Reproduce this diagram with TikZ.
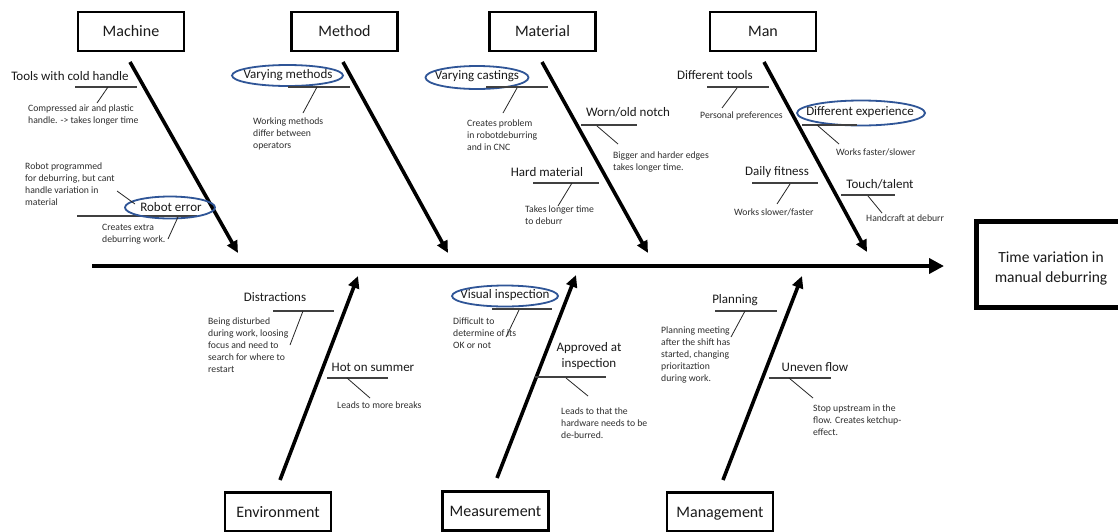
\documentclass[tikz,border=0pt]{standalone}
\usepackage{fontspec}
\setmainfont{Carlito}
\usetikzlibrary{arrows.meta,shapes.geometric}
\definecolor{ovalblue}{HTML}{2F5597}
\definecolor{labelgray}{HTML}{1A1A1A}
\definecolor{notegray}{HTML}{2E2E2E}
\definecolor{linegray}{HTML}{404040}
\begin{document}
\begin{tikzpicture}[x=1pt,y=-1pt,
  catbox/.style={draw=black, line width=2.4pt, minimum width=106pt, minimum height=39pt,
    inner sep=0pt, text height=11pt, text depth=0.5pt, text=labelgray,
    font=\fontsize{16}{19}\selectfont},
  effecttext/.style={inner sep=0pt, align=center, text=labelgray,
    font=\fontsize{15.5}{20}\selectfont},
  cause/.style={inner sep=0pt, text=labelgray, font=\fontsize{13}{16}\selectfont},
  oval/.style={draw=ovalblue, line width=1.8pt},
  note/.style={inner sep=0pt, anchor=north west, align=left, text=notegray,
    font=\fontsize{9.7}{11.8}\selectfont},
  uline/.style={draw=linegray, line width=1.3pt},
  lead/.style={draw=black!85, line width=0.8pt},
  bone/.style={draw=black, line width=3.6pt, -{Triangle[length=12pt,width=11pt]}},
  spine/.style={draw=black, line width=4pt, -{Triangle[length=15pt,width=15pt]}}]
\useasboundingbox (0,0) rectangle (1118,531);
\fill[white] (0,0) rectangle (1118,531);
\clip (0,0) rectangle (1118,531);

% ---------- effect and spine ----------
\node[effecttext] (effect) at (1051,268) {Time variation in\\manual deburring};
\draw[line width=5pt] (976,221.5) rectangle (1130,307);
\coordinate (tail) at (92,266);
\coordinate (head) at (944,266);
\draw[spine] (tail) -- (head);

% ---------- category boxes ----------
\node[catbox] (machine)  at (131,31.5)  {Machine};
\node[catbox] (method)   at (344.5,31.5) {Method};
\node[catbox] (material) at (542.5,31.5) {Material};
\node[catbox] (man)      at (763,31.5)  {Man};
\node[catbox] (environment) at (278,512) {Environment};
\node[catbox] (measurement) at (495.5,511) {Measurement};
\node[catbox] (management)  at (720,512) {Management};

% ---------- bones ----------
\coordinate (machineS) at (130,62);   \coordinate (machineT) at (238,253);
\coordinate (methodS) at (343,62);    \coordinate (methodT) at (448,253);
\coordinate (materialS) at (542,62);  \coordinate (materialT) at (648,253);
\coordinate (manS) at (764,62);       \coordinate (manT) at (867,252);
\coordinate (environmentS) at (280,480); \coordinate (environmentT) at (358,276);
\coordinate (measurementS) at (497,478); \coordinate (measurementT) at (576,275);
\coordinate (managementS) at (723,480);  \coordinate (managementT) at (802,276);
\foreach \b in {machine,method,material,man,environment,measurement,management}
  \draw[bone] (\b S) -- (\b T);

% ---------- Machine ----------
\node[cause] (tools) at (70,76) {Tools with cold handle};
\coordinate (toolsA) at (75,87); \coordinate (toolsB) at (137,87);
\coordinate (toolsK) at (108,87); \coordinate (toolsE) at (97,103);
\draw[uline] (toolsA) -- (toolsB);
\draw[lead] (toolsK) -- (toolsE);
\node[note] (toolsN) at (28,105) {Compressed air and plastic\\handle. -> takes longer time};

\node[note] (robotN) at (25,163) {Robot programmed\\for deburring, but cant\\handle variation in\\material};
\coordinate (robotA) at (77,216); \coordinate (robotB) at (197,216);
\draw[uline] (robotA) -- (robotB);
\node[cause] (robot) at (171,207) {Robot error};
\draw[oval] (170,207.5) ellipse [x radius=45, y radius=11];
\coordinate (robotP) at (117,191); \coordinate (robotQ) at (135,204);
\draw[lead] (robotP) -- (robotQ);
\coordinate (robotK) at (178,217); \coordinate (robotE) at (168,239);
\draw[lead] (robotK) -- (robotE);
\node[note] (robotC) at (102,224) {Creates extra\\deburring work.};

% ---------- Method ----------
\node[cause] (varmeth) at (288,75) {Varying methods};
\draw[oval] (287.5,75.5) ellipse [x radius=55.5, y radius=10.5];
\coordinate (varmethA) at (288,87); \coordinate (varmethB) at (350,87);
\coordinate (varmethK) at (317,87); \coordinate (varmethE) at (303,113);
\draw[uline] (varmethA) -- (varmethB);
\draw[lead] (varmethK) -- (varmethE);
\node[note] (varmethN) at (253,118) {Working methods\\differ between\\operators};

% ---------- Material ----------
\node[cause] (varcast) at (477,76) {Varying castings};
\draw[oval] (477,77.5) ellipse [x radius=51.5, y radius=11.5];
\coordinate (varcastA) at (486,87); \coordinate (varcastB) at (548,87);
\coordinate (varcastK) at (517,88); \coordinate (varcastE) at (503,113);
\draw[uline] (varcastA) -- (varcastB);
\draw[lead] (varcastK) -- (varcastE);
\node[note] (varcastN) at (467,120) {Creates problem\\in robotdeburring\\and in CNC};

\node[cause] (worn) at (628,112) {Worn/old notch};
\coordinate (wornA) at (581,125); \coordinate (wornB) at (637,125);
\coordinate (wornK) at (597,126); \coordinate (wornE) at (618,144);
\draw[uline] (wornA) -- (wornB);
\draw[lead] (wornK) -- (wornE);
\node[note] (wornN) at (613,152) {Bigger and harder edges\\takes longer time.};

\node[cause] (hard) at (547,172) {Hard material};
\coordinate (hardA) at (533,183); \coordinate (hardB) at (599,183);
\coordinate (hardK) at (572,183); \coordinate (hardE) at (558,206);
\draw[uline] (hardA) -- (hardB);
\draw[lead] (hardK) -- (hardE);
\node[note] (hardN) at (525,206) {Takes longer time\\to deburr};

% ---------- Man ----------
\node[cause] (dtools) at (715,75) {Different tools};
\coordinate (dtoolsA) at (707,87); \coordinate (dtoolsB) at (769,87);
\coordinate (dtoolsK) at (737,88); \coordinate (dtoolsE) at (722,108);
\draw[uline] (dtoolsA) -- (dtoolsB);
\draw[lead] (dtoolsK) -- (dtoolsE);
\node[note] (dtoolsN) at (700,112) {Personal preferences};

\node[cause] (exper) at (860,112) {Different experience};
\draw[oval] (861,113) ellipse [x radius=64, y radius=12.5];
\coordinate (experA) at (802,125); \coordinate (experB) at (857,125);
\coordinate (experK) at (817,125); \coordinate (experE) at (839,144);
\draw[uline] (experA) -- (experB);
\draw[lead] (experK) -- (experE);
\node[note] (experN) at (836,149) {Works faster/slower};

\node[cause] (fitness) at (777,172) {Daily fitness};
\coordinate (fitnessA) at (752,183); \coordinate (fitnessB) at (818,183);
\coordinate (fitnessK) at (790,184); \coordinate (fitnessE) at (777,204);
\draw[uline] (fitnessA) -- (fitnessB);
\draw[lead] (fitnessK) -- (fitnessE);
\node[note] (fitnessN) at (734,209) {Works slower/faster};

\node[cause] (touch) at (880,184) {Touch/talent};
\coordinate (touchA) at (841,195); \coordinate (touchB) at (895,195);
\coordinate (touchK) at (868,196); \coordinate (touchE) at (882,213);
\draw[uline] (touchA) -- (touchB);
\draw[lead] (touchK) -- (touchE);
\node[note] (touchN) at (866,215) {Handcraft at deburr};

% ---------- Environment ----------
\node[cause] (distr) at (275,297) {Distractions};
\coordinate (distrA) at (273,311); \coordinate (distrB) at (334,311);
\coordinate (distrK) at (303,311); \coordinate (distrE) at (290,345);
\draw[uline] (distrA) -- (distrB);
\draw[lead] (distrK) -- (distrE);
\node[note] (distrN) at (208,318) {Being disturbed\\during work, loosing\\focus and need to\\search for where to\\restart};

\node[cause] (hot) at (373,367) {Hot on summer};
\coordinate (hotA) at (327,378); \coordinate (hotB) at (388,378);
\coordinate (hotK) at (347,378); \coordinate (hotE) at (370,398);
\draw[uline] (hotA) -- (hotB);
\draw[lead] (hotK) -- (hotE);
\node[note] (hotN) at (337,402) {Leads to more breaks};

% ---------- Measurement ----------
\node[cause] (visual) at (505,295) {Visual inspection};
\draw[oval] (505,296) ellipse [x radius=53, y radius=10.5];
\coordinate (visualA) at (492,309); \coordinate (visualB) at (552,309);
\coordinate (visualK) at (519,310); \coordinate (visualE) at (506,337);
\draw[uline] (visualA) -- (visualB);
\draw[lead] (visualK) -- (visualE);
\node[note] (visualN) at (453,318) {Difficult to\\determine of its\\OK or not};

\node[cause, align=center] (approved) at (589,356) {Approved at\\inspection};
\coordinate (approvedA) at (535,377); \coordinate (approvedB) at (606,377);
\coordinate (approvedK) at (566,378); \coordinate (approvedE) at (588,396);
\draw[uline] (approvedA) -- (approvedB);
\draw[lead] (approvedK) -- (approvedE);
\node[note] (approvedN) at (561,408) {Leads to that the\\hardware needs to be\\de-burred.};

% ---------- Management ----------
\node[cause] (plan) at (735,300) {Planning};
\coordinate (planA) at (715,311); \coordinate (planB) at (777,311);
\coordinate (planK) at (745,311); \coordinate (planE) at (731,337);
\draw[uline] (planA) -- (planB);
\draw[lead] (planK) -- (planE);
\node[note] (planN) at (661,327) {Planning meeting\\after the shift has\\started, changing\\prioritaztion\\during work.};

\node[cause] (uneven) at (815,367) {Uneven flow};
\coordinate (unevenA) at (769,378); \coordinate (unevenB) at (831,378);
\coordinate (unevenK) at (789,378); \coordinate (unevenE) at (813,398);
\draw[uline] (unevenA) -- (unevenB);
\draw[lead] (unevenK) -- (unevenE);
\node[note] (unevenN) at (813,405) {Stop upstream in the\\flow. Creates ketchup-\\effect.};
\end{tikzpicture}
\end{document}
